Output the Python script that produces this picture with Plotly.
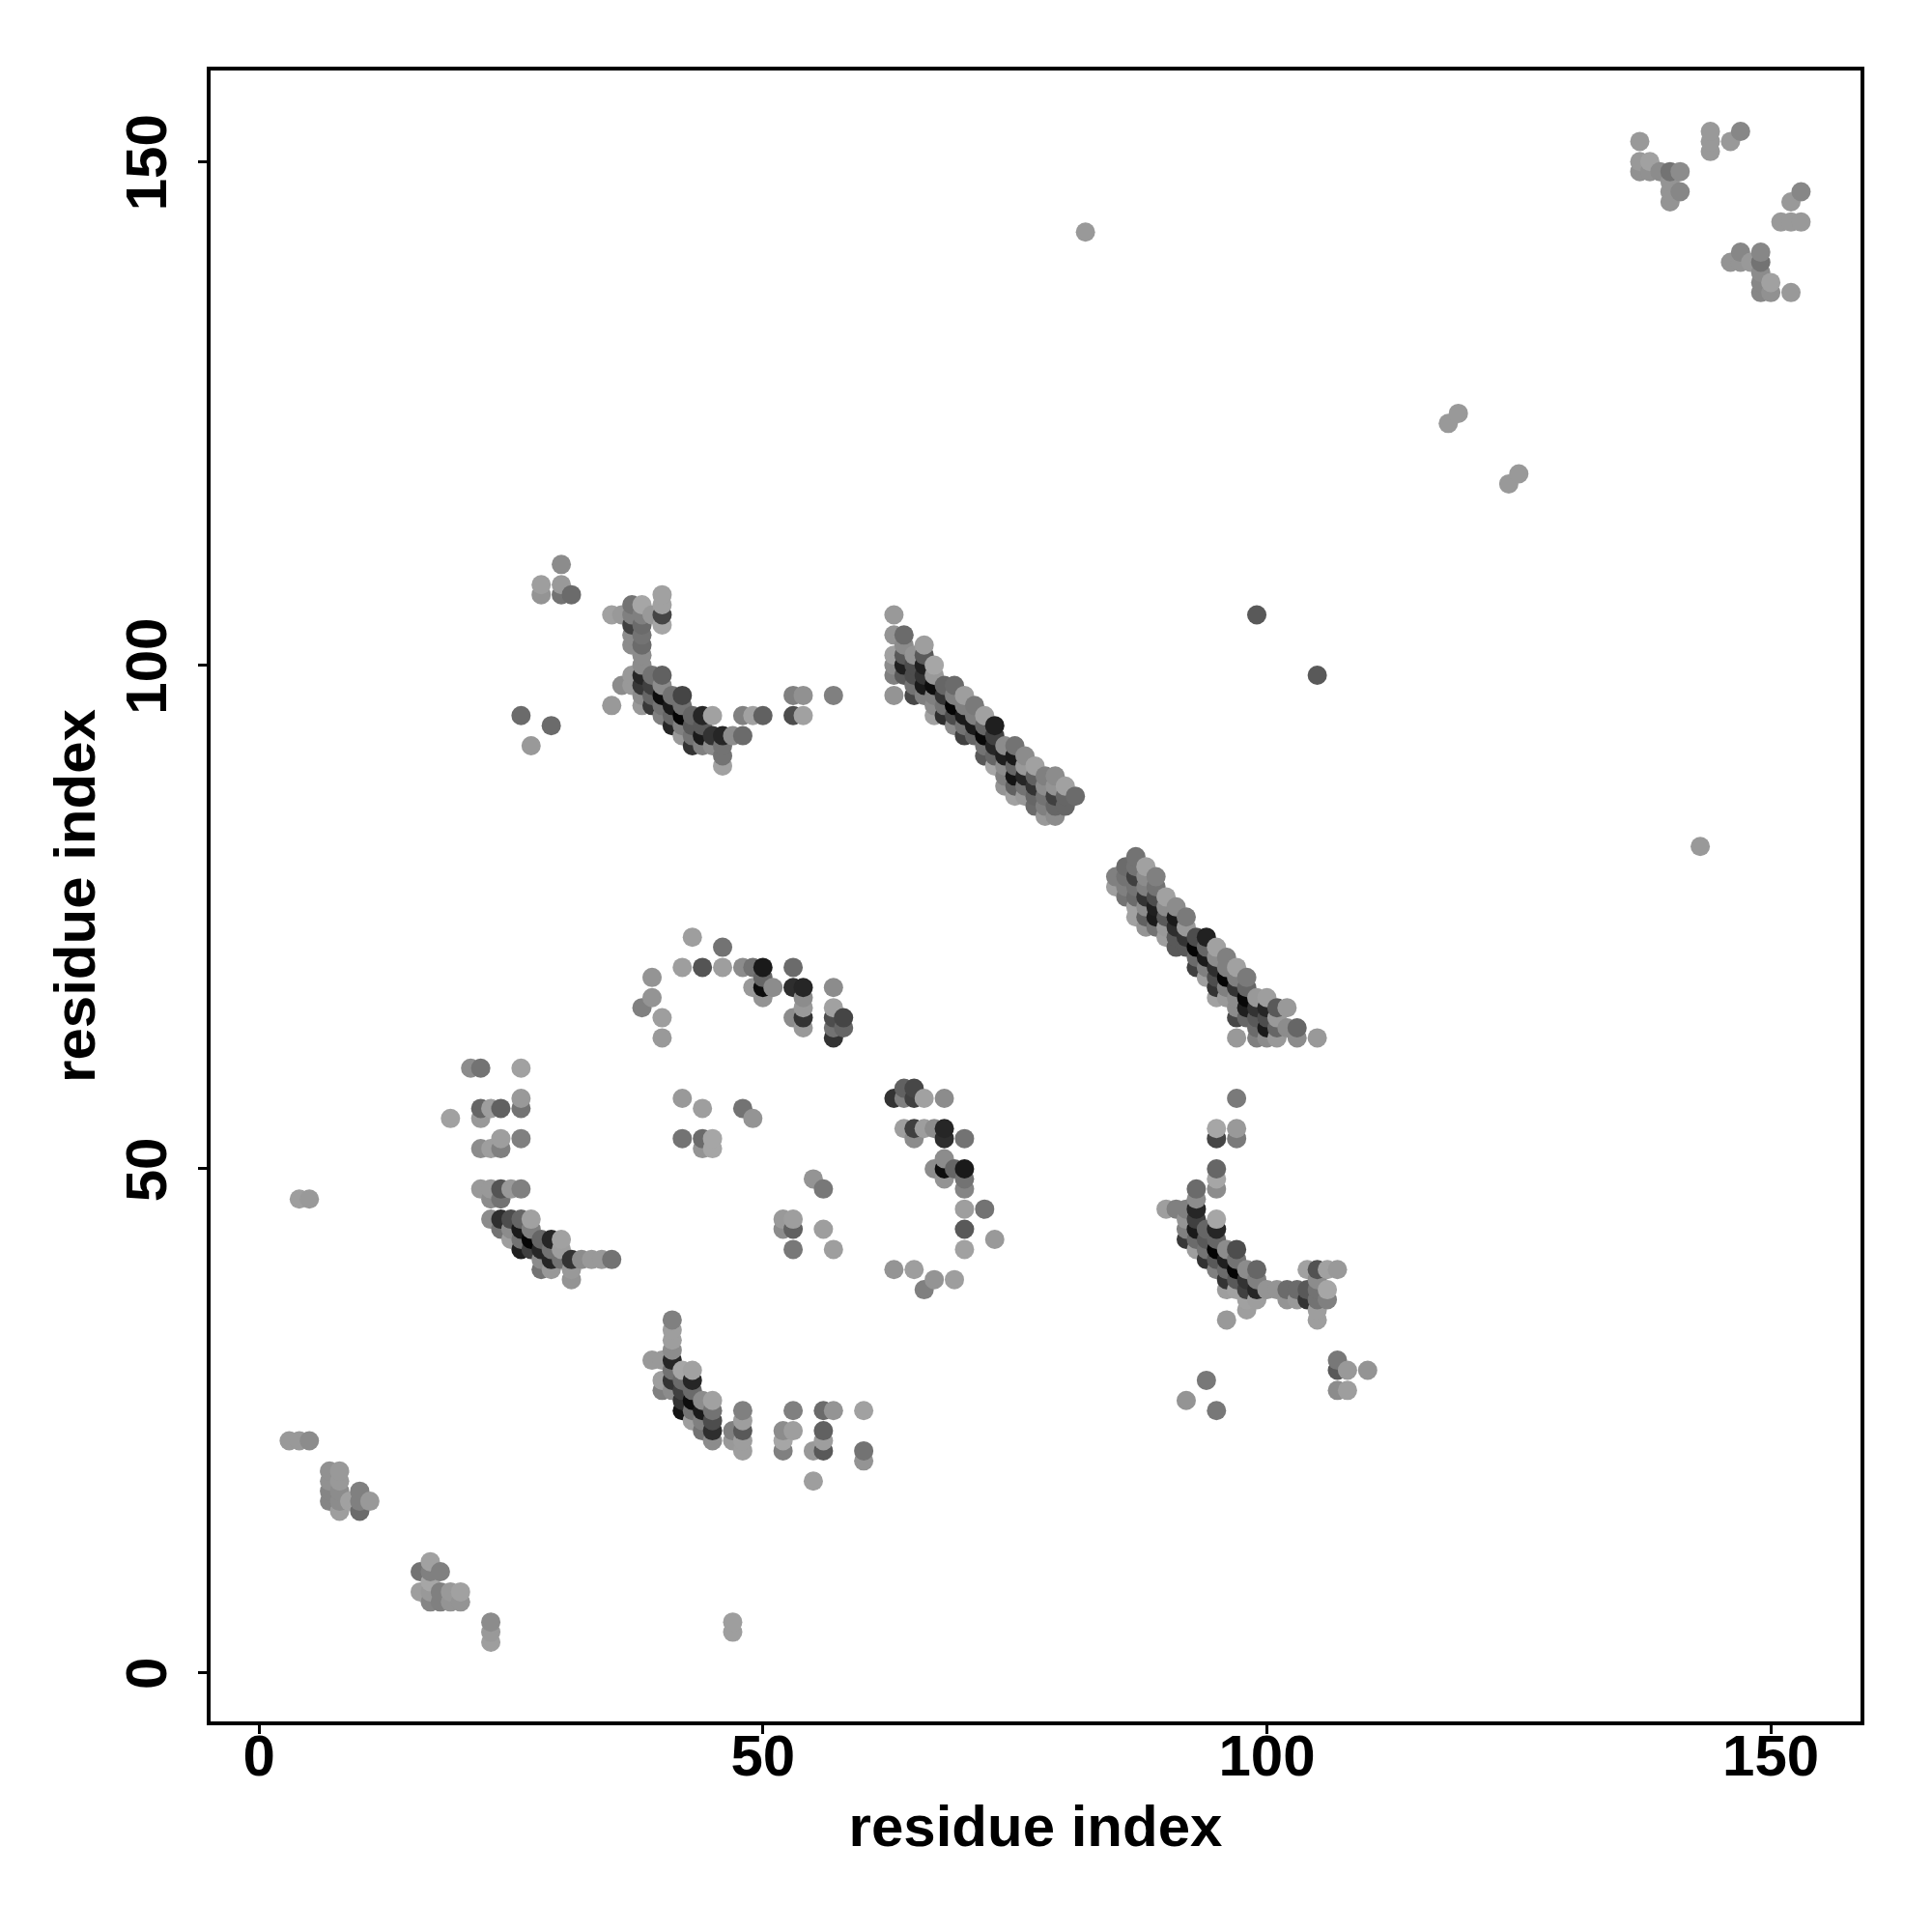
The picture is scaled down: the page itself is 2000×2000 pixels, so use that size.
import plotly.graph_objects as go

# each entry: (residue i, residue j, grey score of the contact)
top_right = [(137,152,.6),(137,150,.6),(137,149,.57),(138,150,.63),(138,149,.57),(139,149,.55),(140,149,.45),(141,149,.55),
 (140,148,.58),(140,147,.58),(140,146,.58),(141,147,.53),(144,153,.6),(144,152,.6),(144,151,.6),(146,152,.6),(147,153,.53),
 (153,147,.53),(152,146,.6),(151,144,.6),(152,144,.6),(153,144,.6),(146,140,.58),(147,141,.53),(147,140,.58),(148,140,.6),
 (149,141,.53),(149,140,.45),(149,139,.55),(149,138,.53),(149,137,.53),(150,138,.63),(150,137,.57),(152,137,.6)]
singles = [(82,143,.6),(118,124,.6),(119,125,.6),(124,118,.6),(125,119,.6),(99,105,.35),(105,99,.35),(143,82,.6),
 (26,95,.42),(29,94,.42),(27,92,.6),(28,108,.62),(28,107,.58),(30,108,.6),(30,107,.45),(31,107,.42),(30,110,.55),
 (23,5,.55),(23,4,.6),(23,3,.62),(47,5,.62),(47,4,.62),(4,47,.62),(5,47,.6)]
cluster_a = [(35,105,.63),(36,105,.6),(37,106,.45),(37,105,.5),(37,104,.25),(37,103,.55),(37,102,.55),(38,106,.65),(38,105,.5),
 (38,104,.42),(38,103,.45),(38,102,.42),(38,101,.55),(38,100,.55),(38,99,.15),(38,98,.22),(38,97,.55),(38,96,.6),(37,99,.6),
 (36,98,.55),(37,98,.6),(35,96,.6),(39,105,.6),(40,107,.63),(40,106,.63),(40,105,.27),(40,104,.65),(39,99,.45),(40,99,.38),
 (39,98,.25),(40,98,.55),(39,97,.4),(39,96,.22),(40,97,.05),(40,96,.45),(40,95,.5),(41,97,.45),(42,97,.27),(41,96,.1),(41,95,.4),
 (41,94,.15),(42,96,.45),(42,95,.02),(42,94,.5),(42,93,.6),(43,95,.4),(44,95,.15),(45,95,.63),(43,94,.35),(44,94,.35),(43,93,.45),
 (44,93,.1),(43,92,.2),(44,92,.5),(45,93,.2),(45,92,.55),(46,93,.15),(47,93,.55),(48,93,.42),(46,92,.45),(46,91,.45),(46,90,.63),
 (48,95,.5),(49,95,.63),(50,95,.38),(53,97,.5),(54,97,.57),(53,95,.3),(54,95,.63),(57,97,.5)]
diagonal_b = [(63,105,.6),(63,103,.58),(63,101,.63),(63,100,.55),(63,99,.5),(63,97,.58),(64,103,.42),(64,102,.55),(64,101,.35),
 (64,100,.12),(64,99,.35),(65,101,.58),(65,100,.3),(65,99,.3),(65,98,.45),(65,97,.28),(66,102,.62),(66,101,.35),(66,100,.12),
 (66,99,.2),(66,98,.1),(66,97,.5),(67,100,.65),(67,99,.6),(67,98,.05),(67,97,.5),(67,96,.55),(67,95,.63),(68,98,.4),(68,97,.2),
 (68,96,.45),(68,95,.18),(69,98,.42),(69,97,.5),(69,96,.02),(69,95,.3),(69,94,.55),(70,97,.62),(70,96,.5),(70,95,.1),(70,94,.45),
 (70,93,.25),(71,96,.48),(71,95,.5),(71,94,.1),(71,93,.4),(72,95,.63),(72,94,.4),(72,93,.03),(72,92,.45),(72,91,.35),(73,94,.12),
 (73,93,.25),(73,92,.15),(73,91,.4),(73,90,.65),(74,92,.55),(74,91,.12),(74,90,.55),(74,89,.5),(74,88,.58),(75,92,.45),(75,91,.1),
 (75,90,.4),(75,89,.08),(75,88,.38),(75,87,.63),(76,91,.55),(76,90,.6),(76,89,.15),(76,88,.45),(76,87,.6),(77,90,.63),(77,89,.38),
 (77,88,.2),(77,87,.4),(77,86,.42),(78,89,.5),(78,88,.55),(78,87,.45),(78,86,.5),(78,85,.6),(79,89,.55),(79,88,.58),(79,87,.25),
 (79,86,.4),(79,85,.55),(80,88,.63),(80,87,.4),(80,86,.4),(81,87,.42)]
diagonal_c = [(87,81,.45),(86,80,.42),(85,79,.5),(85,78,.62),(86,79,.45),(86,78,.5),(86,77,.45),(88,80,.63),(87,80,.45),(87,79,.25),
 (87,78,.45),(87,77,.42),(87,76,.63),(87,75,.63),(88,79,.55),(88,78,.5),(88,77,.2),(88,76,.55),(88,75,.38),(88,74,.58),(89,79,.5),
 (89,78,.45),(89,77,.3),(89,76,.12),(89,75,.1),(89,74,.45),(90,77,.63),(90,76,.55),(90,75,.35),(90,74,.6),(90,73,.62),(91,76,.55),
 (91,75,.1),(91,74,.18),(91,73,.35),(91,72,.35),(92,75,.48),(92,74,.6),(92,73,.2),(92,72,.35),(93,73,.3),(93,72,.02),(93,71,.42),
 (93,70,.25),(94,73,.13),(94,72,.4),(94,71,.1),(94,70,.5),(94,69,.62),(95,72,.63),(95,71,.55),(95,70,.18),(95,69,.3),(95,68,.2),
 (95,67,.63),(96,71,.5),(96,70,.5),(96,69,.02),(96,68,.5),(96,67,.6),(97,70,.63),(97,69,.5),(97,68,.2),(97,67,.55),(97,66,.55),
 (97,65,.28),(98,69,.48),(98,68,.4),(98,67,.03),(98,66,.12),(98,65,.4),(97,63,.6),(99,67,.6),(99,66,.2),(99,65,.35),(99,64,.42),
 (99,63,.5),(100,67,.62),(100,66,.15),(100,65,.3),(100,64,.1),(100,63,.55),(101,66,.35),(102,66,.6),(101,65,.6),(101,64,.4),
 (101,63,.6),(102,64,.55),(103,64,.4),(103,63,.55),(105,63,.6)]
arc_top = [(43,73,.62),(46,72,.45),(42,70,.62),(44,70,.33),(46,70,.62),(48,70,.55),(49,70,.45),(50,70,.1),(50,69,.4),(50,68,.05),
 (49,68,.6),(51,68,.55),(50,67,.58),(53,70,.42),(53,68,.18),(54,68,.15),(54,67,.55),(54,66,.6),(54,65,.2),(53,65,.55),(54,64,.6),
 (57,68,.55),(57,66,.63),(57,65,.3),(58,65,.27),(57,64,.45),(58,64,.4),(57,63,.2),(39,69,.58),(39,67,.58),(38,66,.5),(40,65,.62),(40,63,.6)]
arc_left = [(21,60,.55),(22,60,.45),(26,60,.63),(26,57,.6),(26,56,.45),(22,56,.4),(23,56,.62),(24,56,.38),(22,55,.6),(19,55,.63),
 (26,53,.5),(24,53,.62),(24,52,.5),(23,52,.62),(22,52,.55),(22,48,.6),(23,48,.6),(24,48,.33),(25,48,.6),(26,48,.5),(23,47,.55),
 (24,47,.45),(23,45,.55),(24,45,.18),(25,45,.3),(26,45,.4),(27,45,.63),(24,44,.45),(25,44,.55),(26,44,.1),(27,44,.5),(25,43,.62),
 (26,43,.45),(27,43,.02),(28,43,.4),(29,43,.15),(30,43,.63),(26,42,.12),(27,42,.25),(28,42,.15),(29,42,.45),(30,42,.62),(28,41,.55),
 (29,41,.15),(30,41,.45),(31,41,.2),(28,40,.45),(29,40,.6),(31,40,.6),(31,39,.58),(32,41,.55),(33,41,.6),(34,41,.6),(35,41,.45)]
arc_right = [(64,58,.38),(65,58,.28),(63,57,.2),(64,57,.5),(65,57,.25),(66,57,.63),(68,57,.55),(64,54,.62),(65,54,.25),(66,54,.62),
 (67,54,.55),(68,54,.15),(65,53,.55),(68,53,.18),(70,53,.45),(68,51,.55),(67,50,.55),(68,50,.05),(69,50,.4),(70,50,.1),(68,49,.58),
 (70,49,.45),(70,48,.52),(70,46,.62),(72,46,.45),(70,44,.35),(73,43,.6),(70,42,.63),(63,40,.58),(65,40,.62),(67,39,.58),(69,39,.62),(66,38,.5)]
middle = [(42,57,.6),(44,56,.62),(48,56,.45),(49,55,.58),(42,53,.45),(44,53,.42),(45,53,.65),(44,52,.58),(45,52,.65),(55,49,.58),
 (56,48,.47),(52,45,.6),(53,45,.62),(52,44,.55),(53,44,.38),(56,44,.62),(53,42,.47),(57,42,.62)]
cluster_d = [(97,57,.48),(95,54,.65),(97,54,.6),(95,53,.27),(97,53,.48),(95,50,.4),(95,49,.65),(95,48,.55),(93,48,.42),(93,47,.55),
 (93,46,.15),(93,45,.25),(93,44,.1),(90,46,.62),(91,46,.5),(92,46,.5),(92,45,.58),(92,44,.5),(92,43,.22),(93,43,.42),(93,42,.62),
 (94,44,.4),(94,43,.35),(94,42,.45),(94,41,.2),(95,45,.65),(95,44,.15),(95,43,.4),(95,42,.01),(95,41,.35),(95,40,.5),(96,42,.55),
 (96,41,.12),(96,40,.42),(96,39,.2),(96,38,.62),(97,42,.3),(97,41,.45),(97,40,.02),(97,39,.35),(97,38,.63),(98,40,.55),(98,39,.2),
 (98,38,.25),(98,37,.63),(98,36,.62),(99,40,.4),(99,39,.5),(99,38,.15),(99,37,.62),(96,35,.6),(100,38,.58),(101,38,.58),(102,38,.42),
 (103,38,.42),(102,37,.58),(103,37,.6),(104,38,.35),(104,37,.2),(104,40,.63),(105,40,.32),(106,40,.63),(107,40,.6),(105,39,.55),
 (105,38,.45),(105,37,.45),(106,38,.65),(106,37,.5),(105,36,.62),(105,35,.62),(107,31,.47),(108,30,.6),(110,30,.58),(107,30,.35),
 (107,28,.55),(108,28,.62),(94,29,.47),(92,27,.58),(95,26,.47)]
cluster_e = [(41,35,.5),(41,34,.62),(41,33,.62),(41,32,.55),(41,31,.15),(41,30,.45),(41,29,.2),(41,28,.55),(39,31,.6),(40,31,.6),
 (40,29,.62),(40,28,.5),(42,30,.65),(43,30,.63),(43,29,.15),(42,29,.42),(42,28,.25),(42,27,.2),(42,26,.08),(43,28,.42),(43,27,.05),
 (43,26,.45),(43,25,.62),(44,27,.55),(44,26,.1),(44,25,.5),(44,24,.45),(45,27,.63),(45,26,.45),(45,25,.3),(45,24,.18),(45,23,.55),
 (47,24,.5),(47,23,.6),(48,26,.5),(48,25,.62),(48,24,.35),(48,23,.62),(48,22,.62),(53,26,.5),(52,24,.55),(53,24,.62),(52,23,.65),
 (52,22,.5),(56,26,.42),(57,26,.58),(60,26,.63),(56,24,.38),(56,23,.62),(55,22,.6),(56,22,.35),(60,22,.45),(60,21,.58),(55,19,.62)]
bottom_left = [(3,23,.6),(4,23,.6),(5,23,.55),(7,20,.57),(8,20,.6),(7,19,.57),(8,19,.6),(7,18,.52),(8,18,.55),(7,17,.52),(8,17,.55),
 (8,16,.62),(9,17,.63),(10,18,.5),(10,17,.5),(10,16,.42),(11,17,.6),(17,11,.63),(16,10,.45),(17,10,.5),(18,10,.5),(16,8,.62),(17,9,.65),
 (17,8,.6),(17,7,.52),(18,8,.5),(18,7,.5),(19,8,.6),(19,7,.58),(20,8,.63),(20,7,.58)]

tick_values = [0, 50, 100, 150]
axis_title = "residue index"

# later residues are painted over earlier ones, as in the reference
contacts = sorted(top_right + singles + cluster_a + diagonal_b + diagonal_c + arc_top + arc_left
                  + arc_right + middle + cluster_d + cluster_e + bottom_left, key=lambda c: (c[0], c[1]))

FONT = "Liberation Sans"
axis_style = dict(
    tickvals=tick_values, ticks="outside", ticklen=9, tickwidth=3, tickcolor="black",
    showgrid=False, zeroline=False, showline=True, mirror=True, linecolor="black", linewidth=3.5,
    tickfont=dict(family=FONT, size=60, color="black", weight="bold"),
)

fig = go.Figure(go.Scatter(
    x=[c[0] for c in contacts], y=[c[1] for c in contacts], mode="markers",
    marker=dict(size=20, color=[c[2] for c in contacts], cmin=0, cmax=1,
                colorscale=[[0, "black"], [1, "white"]], showscale=False, line=dict(width=0)),
))
fig.update_layout(
    width=2000, height=2000, autosize=False, showlegend=False,
    paper_bgcolor="white", plot_bgcolor="white",
    margin=dict(l=210, r=82, t=65, b=226),
    xaxis=dict(axis_style, range=[-4.8, 158.9], ticklabelstandoff=-29, title=dict(text=axis_title, standoff=20,
               font=dict(family=FONT, size=60, color="black", weight="bold"))),
    yaxis=dict(axis_style, range=[-4.86, 159.04], tickangle=-90, ticklabelstandoff=9, ticklabelshift=10,
               title=dict(text=axis_title, standoff=1,
               font=dict(family=FONT, size=60, color="black", weight="bold"))),
)
fig.write_html("out.html")
